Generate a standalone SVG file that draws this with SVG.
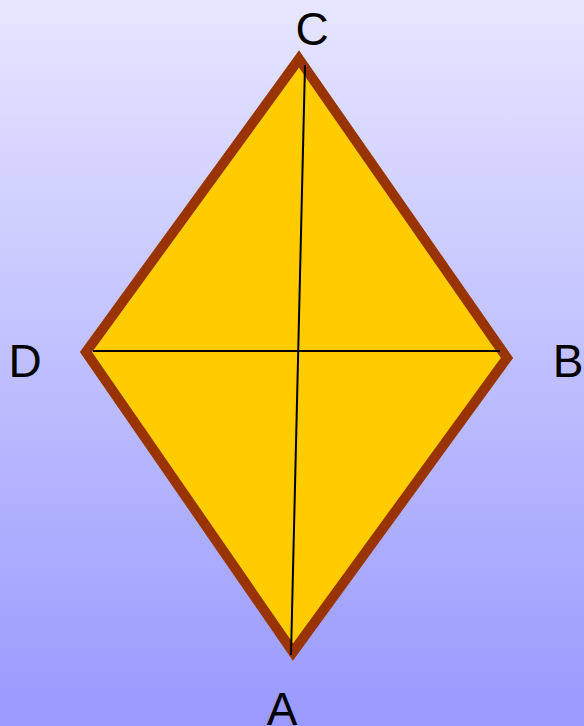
<svg xmlns="http://www.w3.org/2000/svg" width="584" height="726" viewBox="0 0 584 726">
<defs>
<linearGradient id="bg" x1="0" y1="0" x2="0" y2="1">
<stop offset="0" stop-color="#e6e6ff"/>
<stop offset="1" stop-color="#9999ff"/>
</linearGradient>
<style>
.lbl{font-family:"Liberation Sans",Arial,sans-serif;font-size:46px;fill:#000}
.diag{stroke:#000;stroke-width:2;fill:none}
</style>
</defs>
<rect width="584" height="726" fill="url(#bg)"/>
<g id="rhombus">
<polygon points="299,59 507,358 293,652 86,352" fill="#ffcc00" stroke="#993300" stroke-width="10" stroke-linejoin="miter"/>
</g>
<g id="connectors">
<line class="diag" x1="305" y1="65" x2="291" y2="655"/>
<line class="diag" x1="93" y1="351" x2="500" y2="351"/>
</g>
<g id="labels">
<text class="lbl" x="312" y="45" text-anchor="middle">C</text>
<text class="lbl" x="25" y="377" text-anchor="middle">D</text>
<text class="lbl" x="568" y="377" text-anchor="middle">B</text>
<text class="lbl" x="282" y="725" text-anchor="middle">A</text>
</g>
</svg>
